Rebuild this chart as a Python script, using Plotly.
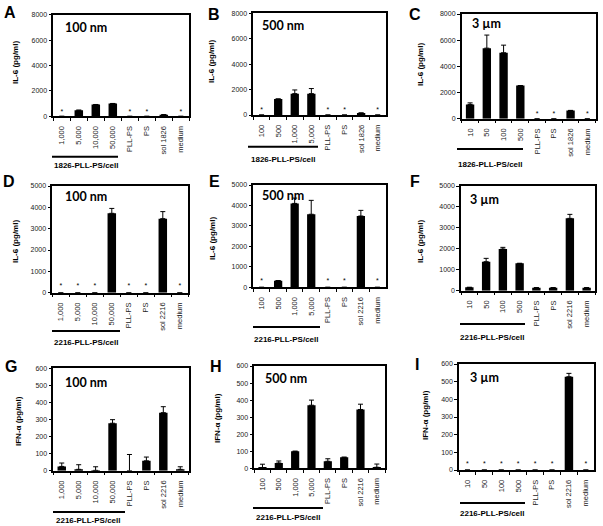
import plotly.graph_objects as go

W, H = 603, 526

# ---------------- data ----------------
cats_1826_100nm = ["1,000", "5,000", "10,000", "50,000", "PLL-PS", "PS", "sol 1826", "medium"]
cats_1826_500nm = ["100", "500", "1,000", "5,000", "PLL-PS", "PS", "sol 1826", "medium"]
cats_1826_3um = ["10", "50", "100", "500", "PLL-PS", "PS", "sol 1826", "medium"]
cats_2216_100nm = ["1,000", "5,000", "10,000", "50,000", "PLL-PS", "PS", "sol 2216", "medium"]
cats_2216_500nm = ["100", "500", "1,000", "5,000", "PLL-PS", "PS", "sol 2216", "medium"]
cats_2216_3um = ["10", "50", "100", "500", "PLL-PS", "PS", "sol 2216", "medium"]

il6_A = [0, 480, 930, 1010, 0, 0, 130, 0]
err_A = [None, None, None, None, None, None, None, None]
star_A = ["*", "", "", "", "*", "*", "", "*"]

il6_B = [0, 1260, 1680, 1680, 0, 0, 160, 0]
err_B = [None, None, 290, 400, None, None, None, None]
star_B = ["*", "", "", "", "*", "*", "", "*"]

il6_C = [1090, 5390, 5040, 2530, 0, 0, 630, 0]
err_C = [120, 1000, 580, None, None, None, None, None]
star_C = ["", "", "", "", "*", "*", "", "*"]

il6_D = [0, 0, 0, 3720, 0, 0, 3470, 0]
err_D = [None, None, None, 230, None, None, 330, None]
star_D = ["*", "*", "*", "", "*", "*", "", "*"]

il6_E = [0, 325, 4100, 3570, 0, 0, 3485, 0]
err_E = [None, None, 260, 680, None, None, 275, None]
star_E = ["*", "", "", "", "*", "*", "", "*"]

il6_F = [160, 1385, 1990, 1305, 145, 145, 3455, 145]
err_F = [None, 160, 80, None, None, None, 190, None]
star_F = ["", "", "", "", "", "", "", ""]

ifn_G = [25, 8, 2, 278, 0, 58, 340, 8]
err_G = [20, 27, 21, 21, 95, 22, 35, 15]
star_G = ["", "", "", "", "", "", "", ""]

ifn_H = [2, 31, 100, 370, 41, 65, 345, 6]
err_H = [22, 12, None, 30, 15, None, 31, 19]
star_H = ["", "", "", "", "", "", "", ""]

ifn_I = [0, 0, 0, 0, 0, 0, 528, 0]
err_I = [None, None, None, None, None, None, 19, None]
star_I = ["*", "*", "*", "*", "*", "*", "", "*"]

il6_ticks_1 = [0, 2000, 4000, 6000, 8000]
il6_ticks_2 = [0, 1000, 2000, 3000, 4000, 5000]
ifn_ticks = [0, 100, 200, 300, 400, 500, 600]

# ---------------- panel specs ----------------
panels = [
    dict(letter="A", cats=cats_1826_100nm, vals=il6_A, err=err_A, star=star_A, star_y=340,
         ticks=il6_ticks_1, ytitle="IL-6 (pg/ml)", size="100 nm", group="1826-PLL-PS/cell",
         box=(53.3, 189.3, 14.7, 116.3), lpos=(10, 12.5), spos=(63, 27), tpos=(16, 63),
         line=(52, 118, 156.7), gpos=(86, 166)),
    dict(letter="B", cats=cats_1826_500nm, vals=il6_B, err=err_B, star=star_B, star_y=340,
         ticks=il6_ticks_1, ytitle="IL-6 (pg/ml)", size="500 nm", group="1826-PLL-PS/cell",
         box=(253.3, 386, 13.3, 115), lpos=(214, 14), spos=(260, 25), tpos=(211, 62),
         line=(248, 318, 146.7), gpos=(283, 159)),
    dict(letter="C", cats=cats_1826_3um, vals=il6_C, err=err_C, star=star_C, star_y=360,
         ticks=il6_ticks_1, ytitle="IL-6 (pg/ml)", size="3 µm", group="1826-PLL-PS/cell",
         box=(461.7, 595.7, 14, 118.7), lpos=(415, 14), spos=(470, 24), tpos=(420, 65),
         line=(457, 523, 149), gpos=(490, 164)),
    dict(letter="D", cats=cats_2216_100nm, vals=il6_D, err=err_D, star=star_D, star_y=313,
         ticks=il6_ticks_2, ytitle="IL-6 (pg/ml)", size="100 nm", group="2216-PLL-PS/cell",
         box=(52.3, 188.3, 186, 292.7), lpos=(9, 181), spos=(63, 197), tpos=(15, 242),
         line=(52, 120, 331), gpos=(86, 342)),
    dict(letter="E", cats=cats_2216_500nm, vals=il6_E, err=err_E, star=star_E, star_y=278,
         ticks=il6_ticks_2, ytitle="IL-6 (pg/ml)", size="500 nm", group="2216-PLL-PS/cell",
         box=(253.3, 385.7, 185, 287.3), lpos=(214, 182), spos=(260, 195), tpos=(212, 239),
         line=(253, 320, 327), gpos=(286, 339)),
    dict(letter="F", cats=cats_2216_3um, vals=il6_F, err=err_F, star=star_F, star_y=300,
         ticks=il6_ticks_2, ytitle="IL-6 (pg/ml)", size="3 µm", group="2216-PLL-PS/cell",
         box=(461, 595, 186, 290.7), lpos=(415, 181), spos=(468, 200), tpos=(420, 242),
         line=(460, 525, 324), gpos=(492, 337)),
    dict(letter="G", cats=cats_2216_100nm, vals=ifn_G, err=err_G, star=star_G, star_y=34,
         ticks=ifn_ticks, ytitle="IFN-α (pg/ml)", size="100 nm", group="2216-PLL-PS/cell",
         box=(53.3, 188.7, 368.3, 470.7), lpos=(11, 366), spos=(63, 382), tpos=(18, 421),
         line=(53, 125, 512), gpos=(88, 520)),
    dict(letter="H", cats=cats_2216_500nm, vals=ifn_H, err=err_H, star=star_H, star_y=34,
         ticks=ifn_ticks, ytitle="IFN-α (pg/ml)", size="500 nm", group="2216-PLL-PS/cell",
         box=(254.3, 385, 366, 468.3), lpos=(216, 366), spos=(263, 378), tpos=(217, 418),
         line=(253, 323, 508), gpos=(288, 517)),
    dict(letter="I", cats=cats_2216_3um, vals=ifn_I, err=err_I, star=star_I, star_y=34,
         ticks=ifn_ticks, ytitle="IFN-α (pg/ml)", size="3 µm", group="2216-PLL-PS/cell",
         box=(459, 594.3, 364, 470), lpos=(416.5, 364), spos=(468, 377), tpos=(425, 415),
         line=(460, 525, 503), gpos=(492, 513)),
]


def px_x(x):
    return x / W


def px_y(y):
    return 1 - y / H


fig = go.Figure()
annotations = []
shapes = []
layout_axes = {}

FONT = "Arial, Liberation Sans, sans-serif"

for i, p in enumerate(panels):
    n = i + 1
    xa = "x" if n == 1 else f"x{n}"
    ya = "y" if n == 1 else f"y{n}"
    xkey = "xaxis" if n == 1 else f"xaxis{n}"
    ykey = "yaxis" if n == 1 else f"yaxis{n}"
    l, r, t, b = p["box"]

    err = p["err"]
    fig.add_trace(go.Bar(
        x=p["cats"], y=p["vals"], xaxis=xa, yaxis=ya,
        marker=dict(color="black", line=dict(width=0)), width=0.5,
        error_y=dict(type="data", symmetric=False, array=err,
                     arrayminus=[0 if e is not None else None for e in err],
                     color="black", thickness=1, width=2.5),
        showlegend=False, hoverinfo="x+y",
    ))
    sx = [c for c, s in zip(p["cats"], p["star"]) if s]
    st = [s for s in p["star"] if s]
    if sx:
        fig.add_trace(go.Scatter(
            x=sx, y=[p["star_y"]] * len(sx), text=st, mode="text",
            textposition="middle center",
            textfont=dict(family=FONT, size=7, color="black"),
            xaxis=xa, yaxis=ya, showlegend=False, hoverinfo="skip",
        ))

    layout_axes[xkey] = dict(
        domain=[px_x(l), px_x(r)], anchor=ya,
        type="category", categoryorder="array", categoryarray=p["cats"],
        range=[-0.5, len(p["cats"]) - 0.5],
        showline=True, mirror=True, linecolor="black", linewidth=1.5,
        ticks="outside", tickson="boundaries", ticklen=3, tickcolor="black", tickwidth=1,
        tickangle=-90, tickfont=dict(family=FONT, size=7.5, color="#222"),
        ticklabelstandoff=5,
        showgrid=False, zeroline=False, automargin=False, fixedrange=True,
    )
    layout_axes[ykey] = dict(
        domain=[px_y(b), px_y(t)], anchor=xa,
        range=[0, p["ticks"][-1]], tickmode="array", tickvals=p["ticks"],
        showline=True, mirror=True, linecolor="black", linewidth=1.5,
        ticks="outside", ticklen=3, tickcolor="black", tickwidth=1,
        tickfont=dict(family=FONT, size=7, color="#222"),
        showgrid=False, zeroline=False, automargin=False, fixedrange=True,
    )

    annotations.append(dict(
        text=f"<b>{p['letter']}</b>", x=px_x(p["lpos"][0]), y=px_y(p["lpos"][1]),
        xref="paper", yref="paper", xanchor="center", yanchor="middle", showarrow=False,
        font=dict(family=FONT, size=16, color="black"),
    ))
    annotations.append(dict(
        text=f"<b>{p['size']}</b>", x=px_x(p["spos"][0]), y=px_y(p["spos"][1]),
        xref="paper", yref="paper", xanchor="left", yanchor="middle", showarrow=False,
        font=dict(family="Lato, Carlito, sans-serif", size=12.5, color="black"),
    ))
    annotations.append(dict(
        text=f"<b>{p['ytitle']}</b>", x=px_x(p["tpos"][0]), y=px_y(p["tpos"][1]),
        xref="paper", yref="paper", xanchor="center", yanchor="middle", showarrow=False,
        textangle=-90, font=dict(family=FONT, size=8, color="black"),
    ))
    annotations.append(dict(
        text=f"<b>{p['group']}</b>", x=px_x(p["gpos"][0]), y=px_y(p["gpos"][1]),
        xref="paper", yref="paper", xanchor="center", yanchor="middle", showarrow=False,
        font=dict(family=FONT, size=8, color="black"),
    ))
    x0, x1, yl = p["line"]
    shapes.append(dict(type="line", xref="paper", yref="paper",
                       x0=px_x(x0), x1=px_x(x1), y0=px_y(yl), y1=px_y(yl),
                       line=dict(color="black", width=2)))

fig.update_layout(
    width=W, height=H,
    margin=dict(l=0, r=0, t=0, b=0),
    paper_bgcolor="white", plot_bgcolor="white",
    annotations=annotations, shapes=shapes,
    **layout_axes,
)

fig.write_html(
    "out.html",
    config={"displayModeBar": False},
    post_script="document.body.style.margin='0';document.body.style.padding='0';",
)
